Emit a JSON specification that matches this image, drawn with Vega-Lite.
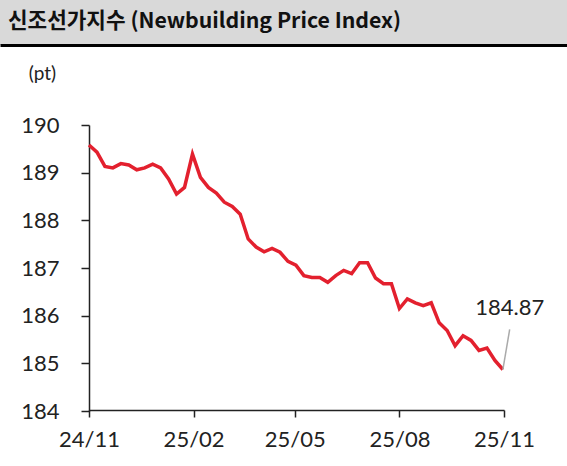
{
  "$schema": "https://vega.github.io/schema/vega-lite/v6.json",
  "padding": 0,
  "spacing": 0,
  "background": "white",
  "config": {"view": {"stroke": null}},
  "vconcat": [
    {
      "width": 567,
      "height": 45,
      "view": {"fill": "#d9d9d9", "stroke": null},
      "data": {"values": [{"t": "신조선가지수 (Newbuilding Price Index)", "x": 0}]},
      "mark": {"type": "text", "align": "left", "baseline": "middle", "dx": 8, "dy": -1, "font": "Noto Sans CJK KR", "fontSize": 21.3, "fontWeight": "bold", "color": "#111"},
      "encoding": {
        "text": {"field": "t"},
        "x": {"field": "x", "type": "quantitative", "scale": {"domain": [0, 1]},
              "axis": {"title": null, "labels": false, "ticks": false, "grid": false, "domainColor": "#000", "domainWidth": 3}}
      }
    },
    {
      "width": 567,
      "height": 419,
      "encoding": {
        "x": {"field": "date", "type": "temporal",
              "scale": {"type": "utc", "domain": [{"year": 2024, "month": 11, "date": 1, "utc": true}, {"year": 2025, "month": 11, "date": 1, "utc": true}], "range": [89, 504]},
              "axis": {"title": null, "labelExpr": "utcFormat(datum.value, '%y/%m')", "grid": false,
                       "values": [{"year": 2024, "month": 11, "date": 1, "utc": true}, {"year": 2025, "month": 2, "date": 1, "utc": true}, {"year": 2025, "month": 5, "date": 1, "utc": true}, {"year": 2025, "month": 8, "date": 1, "utc": true}, {"year": 2025, "month": 11, "date": 1, "utc": true}],
                       "offset": -54, "domainColor": "#222", "domainWidth": 1.5, "tickColor": "#222", "tickWidth": 1.5, "tickSize": 7,
                       "labelFont": "Lato", "labelFontSize": 22, "labelColor": "#222", "labelPadding": 12, "labelFlush": false, "labelOverlap": false}},
        "y": {"field": "v", "type": "quantitative",
              "scale": {"domain": [184, 190], "zero": false, "nice": false, "range": [366, 80]},
              "axis": {"title": "(pt)", "titleAngle": 0, "titleX": -47, "titleY": 28, "titleAlign": "center", "titleBaseline": "middle",
                       "titleFont": "Lato", "titleFontSize": 19, "titleFontWeight": "normal", "titleColor": "#222",
                       "values": [184, 185, 186, 187, 188, 189, 190], "labelExpr": "format(datum.value, 'd')", "grid": false, "offset": -89,
                       "domainColor": "#222", "domainWidth": 1.5, "tickColor": "#222", "tickWidth": 1.5, "tickSize": 8,
                       "labelFont": "Lato", "labelFontSize": 22, "labelColor": "#222", "labelPadding": 22}}
      },
      "layer": [
        {
          "data": {"values": [
            {"date": "2024-11-01", "v": 189.58},
            {"date": "2024-11-08", "v": 189.43},
            {"date": "2024-11-15", "v": 189.13},
            {"date": "2024-11-22", "v": 189.10},
            {"date": "2024-11-29", "v": 189.19},
            {"date": "2024-12-06", "v": 189.16},
            {"date": "2024-12-13", "v": 189.06},
            {"date": "2024-12-20", "v": 189.10},
            {"date": "2024-12-27", "v": 189.18},
            {"date": "2025-01-03", "v": 189.10},
            {"date": "2025-01-10", "v": 188.87},
            {"date": "2025-01-17", "v": 188.55},
            {"date": "2025-01-24", "v": 188.69},
            {"date": "2025-01-31", "v": 189.39},
            {"date": "2025-02-07", "v": 188.90},
            {"date": "2025-02-14", "v": 188.69},
            {"date": "2025-02-21", "v": 188.57},
            {"date": "2025-02-28", "v": 188.38},
            {"date": "2025-03-07", "v": 188.29},
            {"date": "2025-03-14", "v": 188.13},
            {"date": "2025-03-21", "v": 187.61},
            {"date": "2025-03-28", "v": 187.44},
            {"date": "2025-04-04", "v": 187.34},
            {"date": "2025-04-11", "v": 187.41},
            {"date": "2025-04-18", "v": 187.33},
            {"date": "2025-04-25", "v": 187.14},
            {"date": "2025-05-02", "v": 187.06},
            {"date": "2025-05-09", "v": 186.84},
            {"date": "2025-05-16", "v": 186.80},
            {"date": "2025-05-23", "v": 186.80},
            {"date": "2025-05-30", "v": 186.70},
            {"date": "2025-06-06", "v": 186.84},
            {"date": "2025-06-13", "v": 186.95},
            {"date": "2025-06-20", "v": 186.88},
            {"date": "2025-06-27", "v": 187.11},
            {"date": "2025-07-04", "v": 187.11},
            {"date": "2025-07-11", "v": 186.79},
            {"date": "2025-07-18", "v": 186.67},
            {"date": "2025-07-25", "v": 186.67},
            {"date": "2025-08-01", "v": 186.15},
            {"date": "2025-08-08", "v": 186.35},
            {"date": "2025-08-15", "v": 186.27},
            {"date": "2025-08-22", "v": 186.21},
            {"date": "2025-08-29", "v": 186.27},
            {"date": "2025-09-05", "v": 185.85},
            {"date": "2025-09-12", "v": 185.69},
            {"date": "2025-09-19", "v": 185.37},
            {"date": "2025-09-26", "v": 185.58},
            {"date": "2025-10-03", "v": 185.48},
            {"date": "2025-10-10", "v": 185.27},
            {"date": "2025-10-17", "v": 185.32},
            {"date": "2025-10-24", "v": 185.06},
            {"date": "2025-10-31", "v": 184.87}
          ]},
          "mark": {"type": "line", "color": "#e3202e", "strokeWidth": 3.5}
        },
        {
          "data": {"values": [{"date": "2025-10-31", "v": 184.87, "date2": "2025-11-06", "v2": 185.71, "label": "184.87"}]},
          "layer": [
            {
              "mark": {"type": "rule", "color": "#aaaaaa", "strokeWidth": 1.5},
              "encoding": {
                "x2": {"field": "date2"},
                "y2": {"field": "v2"}
              }
            },
            {
              "mark": {"type": "text", "align": "center", "baseline": "alphabetic", "dy": -14, "font": "Lato", "fontSize": 22, "color": "#222"},
              "encoding": {
                "x": {"field": "date2", "type": "temporal"},
                "y": {"field": "v2", "type": "quantitative"},
                "text": {"field": "label"}
              }
            }
          ]
        }
      ]
    }
  ]
}
